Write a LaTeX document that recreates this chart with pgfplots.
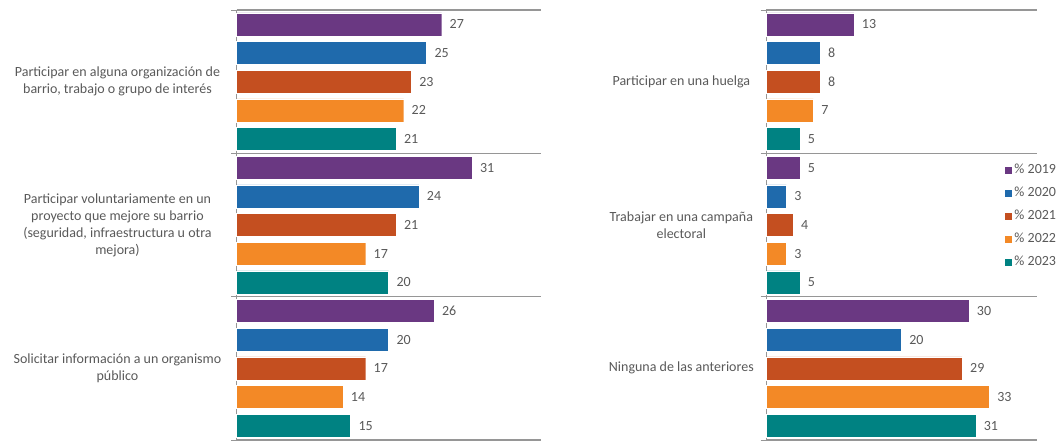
\documentclass[border=0pt]{standalone}
\usepackage{fontspec}
\setmainfont{Carlito}
\usepackage{pgfplots}
\pgfplotsset{compat=1.18}
\definecolor{c19}{RGB}{106,56,130}
\definecolor{c20}{RGB}{31,106,172}
\definecolor{c21}{RGB}{196,79,32}
\definecolor{c22}{RGB}{243,137,38}
\definecolor{c23}{RGB}{0,130,130}
\definecolor{txt}{RGB}{89,89,89}
\definecolor{grd}{RGB}{150,150,150}
\newcommand{\lf}{\fontsize{10.5}{12.75}\selectfont}
\pgfplotsset{
  panel/.style={
    scale only axis, height=322.5pt,
    xbar, bar shift=0pt, bar width=0.8,
    xmin=0, xmax=40, ymin=-0.5, ymax=14.5, y dir=reverse,
    axis x line=none, axis y line*=left,
    axis line style={grd, line width=0.6pt},
    ytick={-0.5,4.5,9.5,14.5}, yticklabels={,,,},
    tick align=outside, major tick length=4pt,
    y tick style={grd, line width=0.6pt},
    ymajorgrids, grid style={grd, line width=0.8pt},
    extra y ticks={2,7,12},
    extra y tick style={grid=none, major tick length=0pt,
      yticklabel style={anchor=center, align=center, font=\lf, text=txt}},
    clip=false,
    /pgf/number format/assume math mode=true,
    nodes near coords,
    every node near coord/.append style={font=\lf, text=txt, xshift=2.5pt},
    every axis plot/.append style={draw=white, line width=0.3pt},
    legend image code/.code={\fill[##1, draw=none] (0pt,-2.7pt) rectangle (5.4pt,2.7pt);},
  }
}
\begin{document}
\begin{tikzpicture}
\useasboundingbox (0,0) rectangle (794.25pt,332.25pt);
% Left panel
\begin{axis}[panel, width=228pt, at={(177.4pt,2.25pt)}, anchor=south west,
  extra y tick labels={{Participar en alguna organización de\\barrio, trabajo o grupo de interés},
    {Participar voluntariamente en un\\proyecto que mejore su barrio\\(seguridad, infraestructura u otra\\mejora)},
    {Solicitar información a un organismo\\público}},
  extra y tick style={yticklabel style={xshift=-89.3pt}}]
\addplot[fill=c19] coordinates {(27,0) (31,5) (26,10)};
\addplot[fill=c20] coordinates {(25,1) (24,6) (20,11)};
\addplot[fill=c21] coordinates {(23,2) (21,7) (17,12)};
\addplot[fill=c22] coordinates {(22,3) (17,8) (14,13)};
\addplot[fill=c23] coordinates {(21,4) (20,9) (15,14)};
\end{axis}
% Right panel
\begin{axis}[panel, width=203pt, at={(574.5pt,2.25pt)}, anchor=south west,
  extra y tick labels={{Participar en una huelga},
    {Trabajar en una campaña\\electoral},
    {Ninguna de las anteriores}},
  extra y tick style={yticklabel style={xshift=-63.5pt}},
  legend style={at={(axis description cs:0.883,0.646)}, anchor=north west,
    draw=none, fill=none, font=\lf, text=txt, row sep=5.8pt, inner sep=0pt,
    nodes={inner sep=1.4pt}},
  legend cell align=left]
\addplot[fill=c19] coordinates {(13,0) (5,5) (30,10)};
\addplot[fill=c20] coordinates {(8,1) (3,6) (20,11)};
\addplot[fill=c21] coordinates {(8,2) (4,7) (29,12)};
\addplot[fill=c22] coordinates {(7,3) (3,8) (33,13)};
\addplot[fill=c23] coordinates {(5,4) (5,9) (31,14)};
\legend{\%\hspace{2.5pt}2019,\%\hspace{2.5pt}2020,\%\hspace{2.5pt}2021,\%\hspace{2.5pt}2022,\%\hspace{2.5pt}2023}
\end{axis}
\end{tikzpicture}
\end{document}
